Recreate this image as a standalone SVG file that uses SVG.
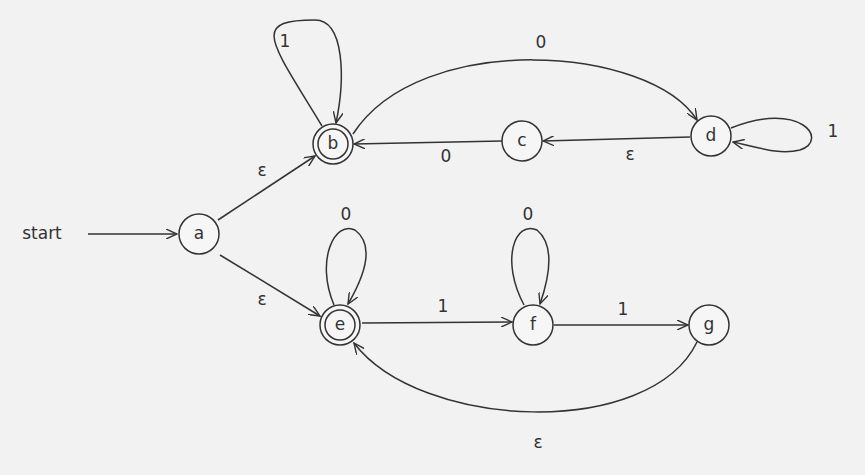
<svg xmlns="http://www.w3.org/2000/svg" width="865" height="475" viewBox="0 0 865 475">
<defs>
<marker id="ar" markerWidth="12" markerHeight="10" refX="11" refY="5" orient="auto" markerUnits="userSpaceOnUse">
<path d="M0,0 L11,5 L0,10" fill="none" stroke="#333" stroke-width="1.4"/>
</marker>
<style>
.n{fill:#f6f6f6;stroke:#333;stroke-width:1.5}
.e{fill:none;stroke:#333;stroke-width:1.5;marker-end:url(#ar)}
text{font-family:"DejaVu Sans","Liberation Sans",sans-serif;font-size:17px;fill:#333;text-anchor:middle;dominant-baseline:middle}
</style>
</defs>
<rect width="865" height="475" fill="#f2f2f2"/>
<g id="connectors">
<path class="e" d="M88,234 L177,234"/>
<path class="e" d="M218,220 L315,156"/>
<path class="e" d="M220,255 L320,316"/>
<path class="e" d="M322,126 C270,40 250,20 315,20 C345,20 345,80 336,123"/>
<path class="e" d="M353,134 C420,30 650,45 697,120"/>
<path class="e" d="M690,137 L543,141"/>
<path class="e" d="M502,141 L354,144"/>
<path class="e" d="M731,128 C800,100 830,140 800,150 C780,155 760,148 733,142"/>
<path class="e" d="M334,305 C315,260 335,220 355,230 C375,245 365,275 348,304"/>
<path class="e" d="M362,323 L512,322"/>
<path class="e" d="M524,305 C500,260 515,220 537,230 C555,245 550,275 540,304"/>
<path class="e" d="M554,325 L688,325"/>
<path class="e" d="M697,342 C650,440 420,430 354,343"/>
</g>
<g id="labels">
<text x="42" y="234" font-size="20">start</text>
<text x="262" y="171">ε</text>
<text x="262" y="300">ε</text>
<text x="285" y="42">1</text>
<text x="541" y="43">0</text>
<text x="630" y="155">ε</text>
<text x="446" y="157">0</text>
<text x="833" y="132">1</text>
<text x="346" y="215">0</text>
<text x="443" y="307">1</text>
<text x="528" y="215">0</text>
<text x="623" y="310">1</text>
<text x="538" y="443">ε</text>
</g>
<g id="node-a"><circle class="n" cx="199" cy="234" r="20"/><text x="199" y="234" font-size="19">a</text></g>
<g id="node-b"><circle class="n" cx="333" cy="144" r="20"/><circle class="n" cx="333" cy="144" r="15"/><text x="333" y="144" font-size="19">b</text></g>
<g id="node-c"><circle class="n" cx="522" cy="141" r="20"/><text x="522" y="141" font-size="19">c</text></g>
<g id="node-d"><circle class="n" cx="711" cy="136" r="20"/><text x="711" y="136" font-size="19">d</text></g>
<g id="node-e"><circle class="n" cx="340" cy="325" r="20"/><circle class="n" cx="340" cy="325" r="15"/><text x="340" y="325" font-size="19">e</text></g>
<g id="node-f"><circle class="n" cx="533" cy="325" r="20"/><text x="533" y="325" font-size="19">f</text></g>
<g id="node-g"><circle class="n" cx="709" cy="325" r="20"/><text x="709" y="325" font-size="19">g</text></g>
</svg>
